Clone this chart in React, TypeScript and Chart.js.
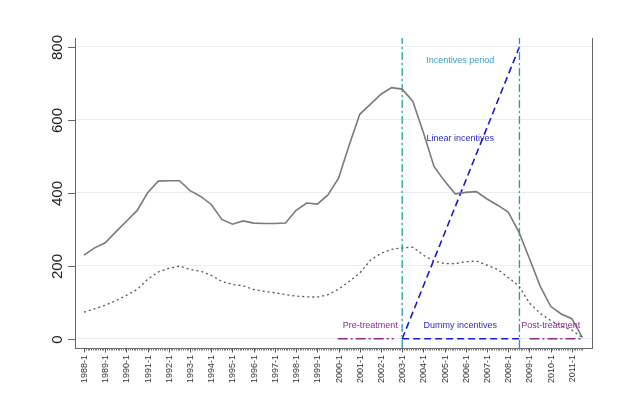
import React, { useEffect, useRef } from 'react';
import { Chart, registerables } from 'chart.js';

Chart.register(...registerables);

// time points (fractional years)
const timePoints = [
  1988.0, 1988.5, 1989.0, 1989.5, 1990.0, 1990.5, 1991.0, 1991.5, 1992.0, 1992.5,
  1993.0, 1993.5, 1994.0, 1994.5, 1995.0, 1995.5, 1996.0, 1996.5, 1997.0, 1997.5,
  1998.0, 1998.5, 1999.0, 1999.5, 2000.0, 2000.5, 2001.0, 2001.5, 2002.0, 2002.5,
  2003.0, 2003.5, 2004.0, 2004.5, 2005.0, 2005.5, 2006.0, 2006.5, 2007.0, 2007.5,
  2008.0, 2008.5, 2009.0, 2009.5, 2010.0, 2010.5, 2011.0, 2011.5,
];

const solidSeries = [
  229, 249, 263, 293, 322, 351, 400, 432, 433, 433,
  406, 390, 368, 327, 314, 323, 317, 316, 316, 317,
  352, 372, 369, 394, 440, 530, 615, 642, 670, 688,
  684, 651, 565, 472, 432, 397, 401, 403, 383, 366,
  347, 293, 220, 145, 89, 68, 55, 3,
];

const dottedSeries = [
  73, 82, 92, 104, 119, 135, 163, 183, 193, 199,
  190, 185, 174, 157, 149, 145, 135, 130, 126, 121,
  117, 115, 114, 121, 136, 157, 180, 215, 234, 245,
  249, 251, 229, 213, 206, 206, 211, 213, 202, 190,
  168, 145, 98, 70, 50, 35, 24, 3,
];

const yearTicks = [
  1988, 1989, 1990, 1991, 1992, 1993, 1994, 1995, 1996, 1997, 1998, 1999,
  2000, 2001, 2002, 2003, 2004, 2005, 2006, 2007, 2008, 2009, 2010, 2011,
];
const yearLabels = yearTicks.map((y) => `${y}-1`);
const yTickValues = [0, 200, 400, 600, 800];

const incentiveStart = 2003.0;
const incentiveEnd = 2008.53;
const linearIncentiveValues = [0, 800];
const preTreatmentSpan = [1999.96, 2002.6];
const postTreatmentSpan = [2009.0, 2011.5];

const annotationTexts = ['Incentives period', 'Linear incentives', 'Pre-treatment', 'Dummy incentives', 'Post-treatment'];
const annotationX = [2005.74, 2005.74, 2001.5, 2005.74, 2010.0];
const annotationY = [761, 549, 37, 37, 37];
const annotationColors = ['#3a9ccc', '#2b2bc4', '#8e2a8e', '#2b2bc4', '#8e2a8e'];

const X_MIN = 1987.575;
const X_MAX = 2011.95;
const Y_MIN = -25.2;
const Y_MAX = 824;

const FONT = '"Liberation Sans", Arial, Helvetica, sans-serif';

const stataPlugin = {
  id: 'stataDecor',
  afterDatasetsDraw(chart: any) {
    const { ctx, scales } = chart;
    const x = scales.x;
    const y = scales.y;
    ctx.save();
    ctx.font = `9px ${FONT}`;
    ctx.textAlign = 'center';
    ctx.textBaseline = 'middle';
    annotationTexts.forEach((t, i) => {
      ctx.fillStyle = annotationColors[i];
      ctx.fillText(t, x.getPixelForValue(annotationX[i]), y.getPixelForValue(annotationY[i]));
    });
    ctx.restore();
  },
  afterDraw(chart: any) {
    const { ctx, chartArea, scales } = chart;
    const x = scales.x;
    const y = scales.y;
    ctx.save();
    ctx.strokeStyle = '#666';
    ctx.lineWidth = 1;
    // right frame
    ctx.beginPath();
    ctx.moveTo(Math.round(chartArea.right) + 0.5, chartArea.top);
    ctx.lineTo(Math.round(chartArea.right) + 0.5, chartArea.bottom);
    ctx.stroke();

    // y ticks and labels
    ctx.fillStyle = '#222';
    ctx.font = `15px ${FONT}`;
    yTickValues.forEach((v) => {
      const py = Math.round(y.getPixelForValue(v)) + 0.5;
      ctx.beginPath();
      ctx.moveTo(chartArea.left - 7, py);
      ctx.lineTo(chartArea.left, py);
      ctx.stroke();
      ctx.save();
      ctx.translate(chartArea.left - 17, py);
      ctx.rotate(-Math.PI / 2);
      ctx.textAlign = 'center';
      ctx.textBaseline = 'middle';
      ctx.fillText(String(v), 0, 0);
      ctx.restore();
    });

    // x minor ticks (monthly)
    const bottom = chartArea.bottom;
    ctx.strokeStyle = '#777';
    for (let yr = 1988; yr <= 2011; yr++) {
      for (let m = 1; m < 12; m++) {
        const val = yr + m / 12;
        if (val > 2011.56) break;
        const px = Math.round(x.getPixelForValue(val)) + 0.5;
        ctx.beginPath();
        ctx.moveTo(px, bottom);
        ctx.lineTo(px, bottom + 2.5);
        ctx.stroke();
      }
    }
    // x major ticks and labels
    ctx.strokeStyle = '#555';
    ctx.fillStyle = '#333';
    ctx.font = `9px ${FONT}`;
    yearTicks.forEach((v, i) => {
      const px = Math.round(x.getPixelForValue(v)) + 0.5;
      ctx.beginPath();
      ctx.moveTo(px, bottom);
      ctx.lineTo(px, bottom + 4.5);
      ctx.stroke();
      ctx.save();
      ctx.translate(px, bottom + 7);
      ctx.rotate(-Math.PI / 2);
      ctx.textAlign = 'right';
      ctx.textBaseline = 'middle';
      ctx.fillText(yearLabels[i], 0, 0);
      ctx.restore();
    });
    ctx.restore();
  },
};

export default function App() {
  const canvasRef = useRef<HTMLCanvasElement | null>(null);

  useEffect(() => {
    if (!canvasRef.current) return;
    const solidData = timePoints.map((t, i) => ({ x: t, y: solidSeries[i] }));
    const dottedData = timePoints.map((t, i) => ({ x: t, y: dottedSeries[i] }));
    const teal = '#1e9db3';
    const blue = '#1a1ac8';
    const purple = '#8e2a8e';

    const chart = new Chart(canvasRef.current, {
      type: 'line',
      data: {
        datasets: [
          {
            data: solidData,
            borderColor: '#7a7a7a',
            borderWidth: 1.6,
            pointRadius: 0,
            tension: 0,
          },
          {
            data: dottedData,
            borderColor: '#555',
            borderWidth: 1.3,
            borderDash: [2, 3],
            pointRadius: 0,
            tension: 0,
          },
          {
            data: [
              { x: incentiveStart, y: Y_MIN },
              { x: incentiveStart, y: Y_MAX },
            ],
            borderColor: teal,
            borderWidth: 1.3,
            borderDash: [8, 3, 2, 3],
            pointRadius: 0,
          },
          {
            data: [
              { x: incentiveEnd, y: Y_MIN },
              { x: incentiveEnd, y: Y_MAX },
            ],
            borderColor: teal,
            borderWidth: 1.3,
            borderDash: [8, 3, 2, 3],
            pointRadius: 0,
          },
          {
            data: [
              { x: incentiveStart, y: linearIncentiveValues[0] },
              { x: incentiveEnd, y: linearIncentiveValues[1] },
            ],
            borderColor: blue,
            borderWidth: 1.6,
            borderDash: [7, 4],
            pointRadius: 0,
          },
          {
            data: [
              { x: incentiveStart, y: 0 },
              { x: incentiveEnd, y: 0 },
            ],
            borderColor: blue,
            borderWidth: 1.6,
            borderDash: [7, 4],
            pointRadius: 0,
          },
          {
            data: [
              { x: preTreatmentSpan[0], y: 0 },
              { x: preTreatmentSpan[1], y: 0 },
            ],
            borderColor: purple,
            borderWidth: 1.6,
            borderDash: [10, 3, 2, 3],
            pointRadius: 0,
          },
          {
            data: [
              { x: postTreatmentSpan[0], y: 0 },
              { x: postTreatmentSpan[1], y: 0 },
            ],
            borderColor: purple,
            borderWidth: 1.6,
            borderDash: [10, 3, 2, 3],
            pointRadius: 0,
          },
        ],
      },
      options: {
        animation: false,
        responsive: false,
        devicePixelRatio: 1,
        layout: { padding: { left: 75, right: 48, top: 38, bottom: 45 } },
        plugins: { legend: { display: false }, tooltip: { enabled: false } },
        scales: {
          x: {
            type: 'linear',
            min: X_MIN,
            max: X_MAX,
            ticks: { display: false },
            grid: { display: false, drawTicks: false },
            border: { display: true, color: '#666', width: 1 },
          },
          y: {
            type: 'linear',
            min: Y_MIN,
            max: Y_MAX,
            afterBuildTicks: (scale: any) => {
              scale.ticks = yTickValues.map((v) => ({ value: v }));
            },
            ticks: { display: false },
            grid: { color: '#e7edf0', lineWidth: 1, drawTicks: false },
            border: { display: true, color: '#666', width: 1 },
          },
        },
      },
      plugins: [stataPlugin],
    } as any);
    return () => chart.destroy();
  }, []);

  return (
    <div style={{ position: 'absolute', left: 0, top: 0, width: 640, height: 393, background: '#fff' }}>
      <canvas ref={canvasRef} width={640} height={393} />
    </div>
  );
}
